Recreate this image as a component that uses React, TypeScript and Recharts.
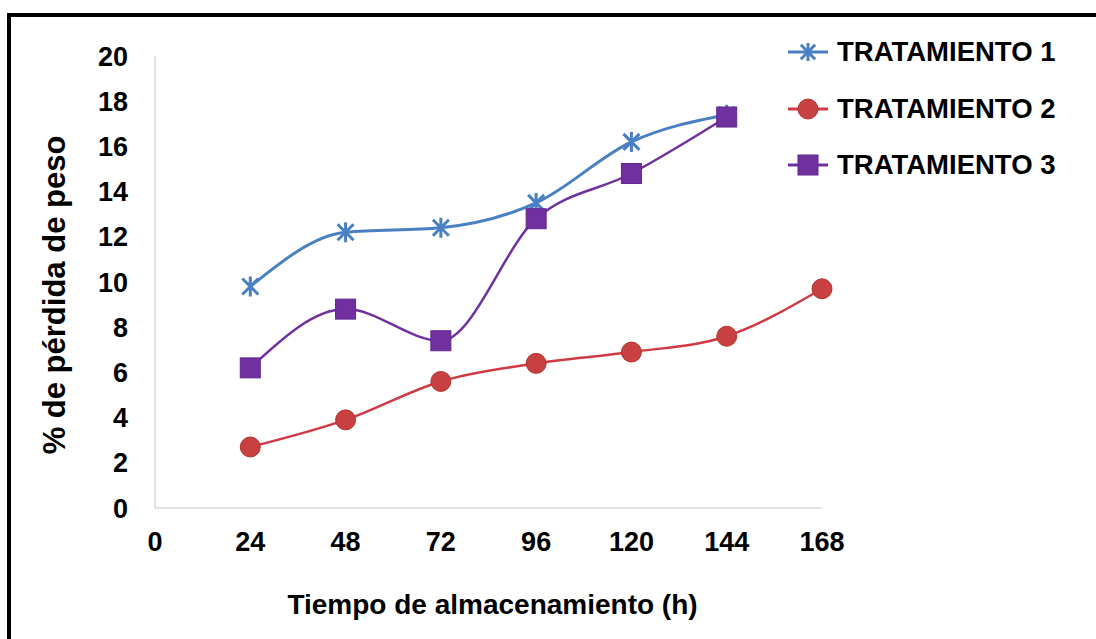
import React from "react";
import { LineChart, Line, XAxis, YAxis, Label } from "recharts";

const hours = [24, 48, 72, 96, 120, 144, 168];
const tratamiento1 = [9.8, 12.2, 12.4, 13.5, 16.2, 17.4, null];
const tratamiento2 = [2.7, 3.9, 5.6, 6.4, 6.9, 7.6, 9.7];
const tratamiento3 = [6.2, 8.8, 7.4, 12.8, 14.8, 17.3, null];
const xTicks = [0, 24, 48, 72, 96, 120, 144, 168];
const yTicks = [0, 2, 4, 6, 8, 10, 12, 14, 16, 18, 20];
const seriesNames = ["TRATAMIENTO 1", "TRATAMIENTO 2", "TRATAMIENTO 3"];

const data = hours.map((h, i) => ({
  h,
  t1: tratamiento1[i],
  t2: tratamiento2[i],
  t3: tratamiento3[i],
}));

const BLUE = "#4a80c2";
const RED = "#cf3a45";
const RED_FILL = "#c8403f";
const PURPLE = "#7030a0";
const FONT = "'Liberation Sans', Arial, sans-serif";

const Star = ({ cx, cy, color, s = 10 }: any) => (
  <g stroke={color} strokeWidth={3} strokeLinecap="butt">
    <line x1={cx} y1={cy - s} x2={cx} y2={cy + s} />
    <line x1={cx - s * 0.8} y1={cy - s * 0.8} x2={cx + s * 0.8} y2={cy + s * 0.8} />
    <line x1={cx - s * 0.8} y1={cy + s * 0.8} x2={cx + s * 0.8} y2={cy - s * 0.8} />
  </g>
);
const Circ = ({ cx, cy }: any) => (
  <circle cx={cx} cy={cy} r={10} fill={RED_FILL} stroke="#b03535" strokeWidth={1} />
);
const Sq = ({ cx, cy }: any) => (
  <rect x={cx - 10} y={cy - 10} width={20} height={20} fill={PURPLE} stroke="#5f2890" strokeWidth={1} />
);

const dotStar = (p: any) =>
  p.cy == null ? <g key={p.index} /> : <Star key={p.index} cx={p.cx} cy={p.cy} color={BLUE} />;
const dotCirc = (p: any) =>
  p.cy == null ? <g key={p.index} /> : <Circ key={p.index} cx={p.cx} cy={p.cy} />;
const dotSq = (p: any) =>
  p.cy == null ? <g key={p.index} /> : <Sq key={p.index} cx={p.cx} cy={p.cy} />;

const legendIcons = [
  (c: number) => <Star cx={c} cy={14} color={BLUE} s={9} />,
  (c: number) => <Circ cx={c} cy={14} />,
  (c: number) => <Sq cx={c} cy={14} />,
];
const legendColors = [BLUE, RED, PURPLE];

export default function App() {
  const tickStyle = { fill: "#000", fontSize: 27, fontWeight: 700, fontFamily: FONT };
  return (
    <div style={{ position: "absolute", left: 0, top: 0, width: 1096, height: 639, background: "#fff", overflow: "hidden" }}>
      <div
        style={{
          position: "absolute",
          left: 7,
          top: 13,
          width: 1100,
          height: 640,
          borderTop: "4px solid #000",
          borderLeft: "4px solid #000",
        }}
      />
      <div style={{ position: "absolute", left: 0, top: 0 }}>
        <LineChart width={1096} height={639} data={data} margin={{ top: 56, right: 274, bottom: 0, left: 0 }}>
          <XAxis
            dataKey="h"
            type="number"
            domain={[0, 168]}
            ticks={xTicks}
            interval={0}
            axisLine={{ stroke: "#d9d9d9", strokeWidth: 1.5 }}
            tickLine={false}
            tickMargin={18}
            height={131}
            tick={tickStyle}
          >
            <Label
              value="Tiempo de almacenamiento (h)"
              position="insideBottom"
              offset={25}
              dx={4}
              style={{ fill: "#000", fontSize: 28, fontWeight: 700, fontFamily: FONT }}
            />
          </XAxis>
          <YAxis
            type="number"
            domain={[0, 20]}
            ticks={yTicks}
            interval={0}
            width={155}
            axisLine={{ stroke: "#d9d9d9", strokeWidth: 1.5 }}
            tickLine={false}
            tickMargin={21}
            tick={tickStyle}
          >
            <Label
              value="% de pérdida de peso"
              position="center"
              angle={-90}
              dx={-24}
              dy={13}
              style={{ fill: "#000", fontSize: 31, fontWeight: 700, fontFamily: FONT, textAnchor: "middle" }}
            />
          </YAxis>
          <Line
            dataKey="t2"
            type="monotone"
            stroke={RED}
            strokeWidth={2.5}
            dot={dotCirc}
            activeDot={false}
            isAnimationActive={false}
          />
          <Line
            dataKey="t1"
            type="monotone"
            stroke={BLUE}
            strokeWidth={3}
            dot={dotStar}
            activeDot={false}
            isAnimationActive={false}
          />
          <Line
            dataKey="t3"
            type="monotone"
            stroke={PURPLE}
            strokeWidth={2.5}
            dot={dotSq}
            activeDot={false}
            isAnimationActive={false}
          />
        </LineChart>
      </div>
      {seriesNames.map((name, i) => (
        <div
          key={name}
          style={{
            position: "absolute",
            left: 786,
            top: 38 + i * 56.5,
            display: "flex",
            alignItems: "center",
            height: 28,
          }}
        >
          <svg width={46} height={28} style={{ display: "block" }}>
            <line x1={2} y1={14} x2={42} y2={14} stroke={legendColors[i]} strokeWidth={3} />
            {legendIcons[i](22)}
          </svg>
          <span
            style={{
              marginLeft: 5,
              fontFamily: FONT,
              fontWeight: 700,
              fontSize: 27.5,
              color: "#000",
              whiteSpace: "nowrap",
              lineHeight: "28px",
            }}
          >
            {name}
          </span>
        </div>
      ))}
    </div>
  );
}
